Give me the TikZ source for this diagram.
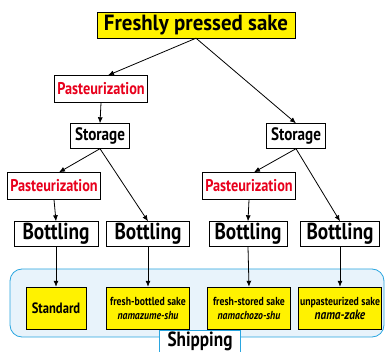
\documentclass[tikz,border=0pt]{standalone}
\usepackage{fontspec}
\newfontfamily\condfont[FakeStretch=0.84]{PT Sans}
\newfontfamily\headfont[FakeStretch=0.95]{PT Sans}
\usetikzlibrary{arrows.meta}
\definecolor{pastred}{HTML}{E8001C}
\definecolor{sakeyellow}{HTML}{FFF200}
\definecolor{shipblue}{HTML}{2AA6E0}
\definecolor{shipfill}{HTML}{E8F3FB}

\begin{document}
\begin{tikzpicture}[x=1pt,y=-1pt,
		stepbox/.style={rectangle,draw,fill=white,inner sep=1pt,font=\condfont\bfseries},
		pastbox/.style={stepbox,text=pastred,minimum width=93pt,minimum height=27pt,font=\condfont\bfseries\fontsize{17}{17}\selectfont},
		storebox/.style={stepbox,minimum width=59pt,minimum height=25pt,font=\condfont\bfseries\fontsize{18}{18}\selectfont},
		bottlebox/.style={stepbox,minimum width=82pt,minimum height=25pt,font=\condfont\bfseries\fontsize{23}{23}\selectfont},
		sakebox/.style={rectangle,draw,fill=sakeyellow,minimum height=42pt,align=center,inner sep=1pt,font=\condfont\bfseries\fontsize{11.6}{14}\selectfont},
		flow/.style={-{Latex[length=6pt,width=5pt]},line width=0.8pt}
		]
		\useasboundingbox (0,0) rectangle (385,352);
		\fill[white] (0,0) rectangle (385,352);

		% shipping area
		\draw[shipblue,fill=shipfill,rounded corners=12pt,thick] (10,269) rectangle (384,337);

		\node[rectangle,draw,fill=sakeyellow,minimum width=198pt,minimum height=26pt,inner sep=1pt,
		font=\headfont\bfseries\fontsize{22}{22}\selectfont](S0) at (196,25){Freshly pressed sake};

		\node[pastbox](P1) at (101,89){Pasteurization};
		\node[storebox](L1) at (100,136){Storage};
		\node[storebox](R1) at (296,136){Storage};
		\node[pastbox](P2) at (54,186){Pasteurization};
		\node[pastbox](P3) at (249,186){Pasteurization};

		\node[bottlebox,minimum width=84pt](B1) at (56,234){Bottling};
		\node[bottlebox,minimum width=83pt](B2) at (148,234){Bottling};
		\node[bottlebox,minimum width=78pt](B3) at (248,234){Bottling};
		\node[bottlebox,minimum width=79pt](B4) at (340,234){Bottling};

		\node[sakebox,minimum width=60pt,font=\condfont\bfseries\fontsize{15}{15}\selectfont](K1) at (56,308){Standard};
		\node[sakebox,minimum width=83pt](K2) at (148,308){fresh-bottled sake\\\textit{namazume-shu}};
		\node[sakebox,minimum width=83pt](K3) at (249,308){fresh-stored sake\\\textit{namachozo-shu}};
		\node[sakebox,minimum width=83pt](K4) at (340,308){unpasteurized sake\\\textit{\fontsize{13.5}{13.5}\selectfont nama-zake}};

		\node[stepbox,draw=shipblue,thick,minimum width=81pt,minimum height=23pt,
		font=\condfont\bfseries\fontsize{20.5}{20.5}\selectfont](SH) at (200,341.5){Shipping};

		\draw[flow] (S0.south) -- ([xshift=7pt]P1.north);
		\draw[flow] (S0.south) -- (R1.north);
		\draw[flow] (P1.south) -- (L1.north);
		\draw[flow] (L1.south) -- ([xshift=5pt]P2.north);
		\draw[flow] (L1.south) -- (B2.north);
		\draw[flow] (R1.south) -- ([xshift=5pt]P3.north);
		\draw[flow] (R1.south) -- (B4.north);
		\draw[flow] (P2.south) -- (B1.north);
		\draw[flow] (P3.south) -- (B3.north);
		\draw[flow] (B1.south) -- (K1.north);
		\draw[flow] (B2.south) -- (K2.north);
		\draw[flow] (B3.south) -- (K3.north);
		\draw[flow] (B4.south) -- (K4.north);
	\end{tikzpicture}
\end{document}
